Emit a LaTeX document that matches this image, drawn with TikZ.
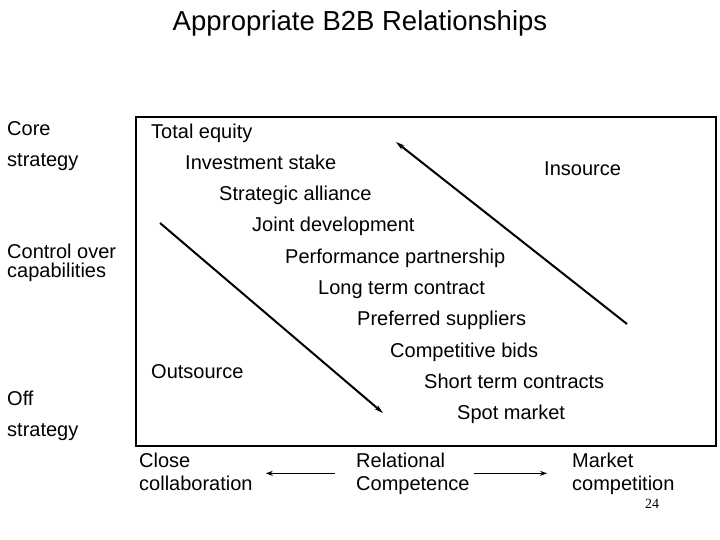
\documentclass[tikz,border=0pt]{standalone}
\usepackage{fontspec}
\setmainfont{Liberation Sans}
\newfontfamily\pagenumfont{Liberation Serif}
\usetikzlibrary{arrows.meta,positioning}

\begin{document}
\begin{tikzpicture}[
  x=1pt, y=-1pt,
  font=\fontsize{20}{23}\selectfont,
  lbl/.style={anchor=base west, inner sep=0pt, align=left},
  frm/.style={draw, line width=2.6pt},
  trend/.style={draw, -{Stealth[length=9pt,width=5pt]}, line width=2pt},
  pull/.style={draw, -{Stealth[length=7pt,width=5pt]}, line width=1.4pt},
]
\useasboundingbox (0,0) rectangle (720,540);

\node[anchor=base, inner sep=0pt, font=\fontsize{27.5}{32}\selectfont] (title) at (360,31) {Appropriate B2B Relationships};

% frame
\draw[frm] (136,117) rectangle (716,446);

% left scale (base = last line)
\node[lbl] (core)  at (7,136) {Core};
\node[lbl] (cores) at (7,167) {strategy};
\node[lbl, font=\fontsize{20}{19}\selectfont] (ctrl) at (7,277) {Control over\\capabilities};
\node[lbl] (off)   at (7,405) {Off};
\node[lbl] (offs)  at (7,436) {strategy};

% relationship ladder
\node[lbl] (equity)   at (151,139) {Total equity};
\node[lbl] (stake)    at (185,170) {Investment stake};
\node[lbl] (alliance) at (219,201) {Strategic alliance};
\node[lbl] (jointdev) at (252,232) {Joint development};
\node[lbl] (perf)     at (285,263) {Performance partnership};
\node[lbl] (longterm) at (318,294) {Long term contract};
\node[lbl] (pref)     at (357,325) {Preferred suppliers};
\node[lbl] (bids)     at (390,357) {Competitive bids};
\node[lbl] (shortt)   at (424,388) {Short term contracts};
\node[lbl] (spot)     at (457,419) {Spot market};

\node[lbl] (insrc)  at (544,176) {Insource};
\node[lbl] (outsrc) at (151,378) {Outsource};

\coordinate (out0) at (160,223);
\coordinate (out1) at (383,413);
\coordinate (in0)  at (627,324);
\coordinate (in1)  at (396,142);
\draw[trend] (out0) -- (out1);
\draw[trend] (in0) -- (in1);

% bottom scale
\node[lbl] (close)  at (139,490) {Close\\collaboration};
\node[lbl] (relcom) at (356,490) {Relational\\Competence};
\node[lbl] (market) at (572,490) {Market\\competition};
\draw[pull, shorten <=21pt, shorten >=13pt] (relcom.west) -- (relcom.west -| close.east);
\draw[pull, shorten <=4pt, shorten >=25pt] (relcom.east) -- (relcom.east -| market.west);

\node[lbl, font=\pagenumfont\fontsize{14}{16}\selectfont] (pgno) at (645,508) {24};
\end{tikzpicture}
\end{document}
